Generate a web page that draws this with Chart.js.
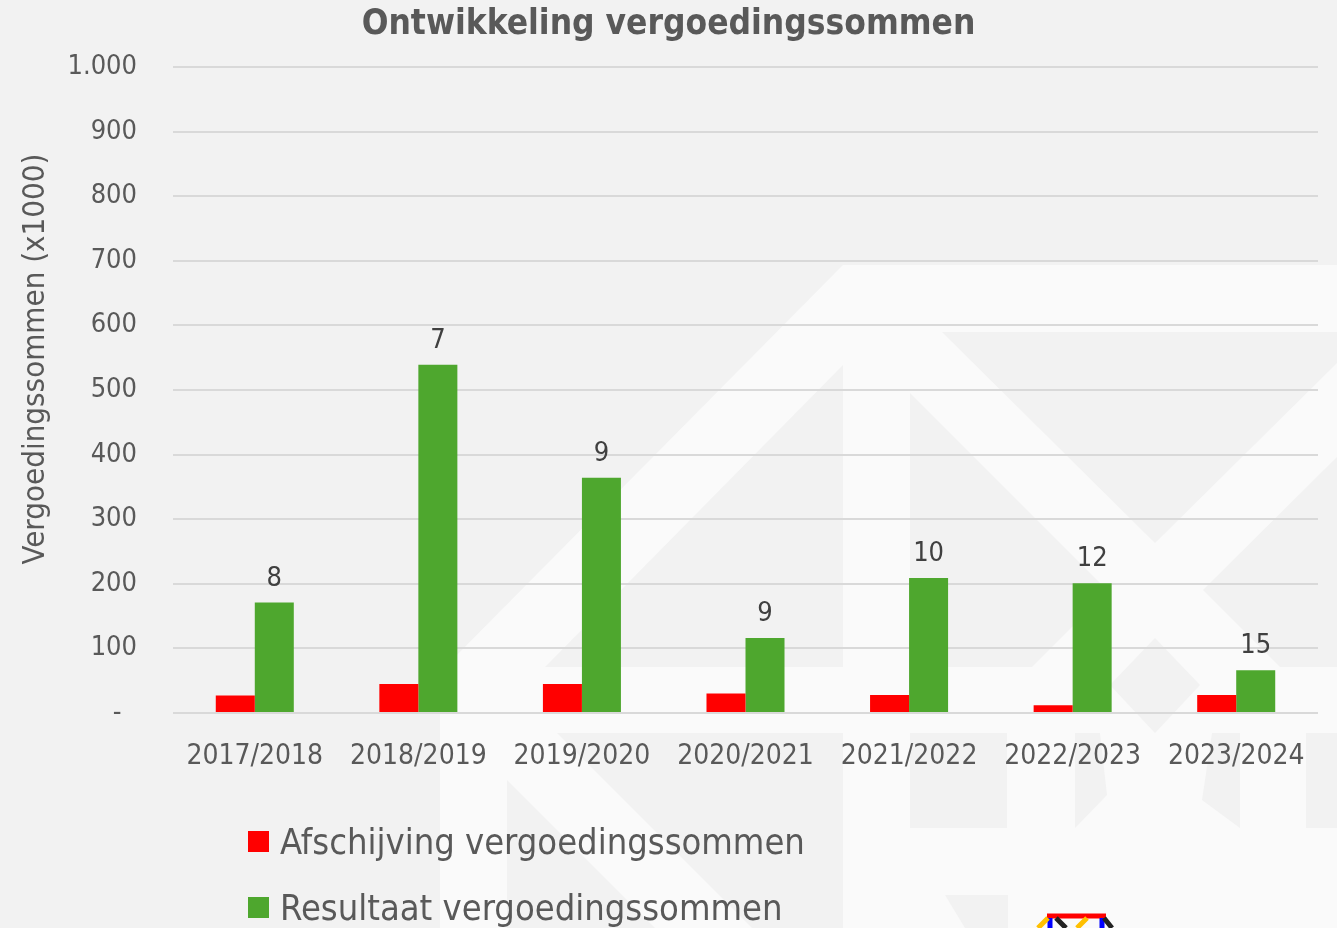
<!DOCTYPE html>
<html>
<head>
<meta charset="utf-8">
<script src="https://cdn.jsdelivr.net/npm/chart.js@4"></script>
<style>
    html, body { margin: 0; padding: 0; background: #f2f2f2; }
    #wrap { position: relative; width: 1337px; height: 928px; overflow: hidden; }
    #legenda { position: absolute; left: 248px; top: 808px; font-family: 'DejaVu Sans Condensed', 'DejaVu Sans', sans-serif; font-size: 36px; color: #595959; }
    #legenda div { display: flex; align-items: center; height: 66px; }
    #legenda span.blok { display: inline-block; width: 21px; height: 21px; margin-right: 11px; }
</style>
</head>
<body>
<div id="wrap">
    <canvas id="grafiek" width="1337" height="928"></canvas>
    <div id="legenda"></div>
</div>
<script>
// gegevens (bedragen x1000)
const schooljaren = ['2017/2018', '2018/2019', '2019/2020', '2020/2021', '2021/2022', '2022/2023', '2023/2024'];
const afschrijving = [27, 45, 45, 30, 28, 12, 28];
const resultaat = [171, 539, 364, 116, 209, 201, 66];
const aantallen = [8, 7, 9, 9, 10, 12, 15];
const yTicks = [0, 100, 200, 300, 400, 500, 600, 700, 800, 900, 1000];

const FONT = "'DejaVu Sans Condensed', 'DejaVu Sans', sans-serif";
const GRIJS = '#595959';

// lichte watermerk-vlakken op de achtergrond
const watermerk = {
    id: 'watermerk',
    beforeDraw(chart) {
        const c = chart.ctx;
        const vlak = (pts, kleur) => {
            c.fillStyle = kleur;
            c.beginPath();
            pts.forEach((p, i) => i ? c.lineTo(p[0], p[1]) : c.moveTo(p[0], p[1]));
            c.closePath();
            c.fill();
        };
        c.save();
        const licht = '#fafafa', donker = '#f2f2f2';
        vlak([[843, 265], [1337, 265], [1337, 667], [843, 667]], licht);
        vlak([[843, 265], [843, 365], [545, 667], [445, 667]], licht);
        vlak([[440, 667], [1337, 667], [1337, 928], [440, 928]], licht);
        // donkere delen binnen het logo
        vlak([[942, 332], [1337, 332], [1337, 363], [1155, 543]], donker);
        vlak([[910, 393], [1108, 591], [1032, 667], [910, 667]], donker);
        vlak([[1337, 457], [1203, 590], [1280, 667], [1337, 667]], donker);
        vlak([[1155, 638], [1200, 685], [1155, 733], [1110, 685]], donker);
        vlak([[507, 780], [507, 928], [655, 928]], donker);
        vlak([[557, 733], [843, 733], [843, 928], [752, 928]], donker);
        vlak([[910, 733], [1007, 733], [1007, 828], [910, 828]], donker);
        vlak([[1075, 733], [1100, 733], [1107, 795], [1075, 828]], donker);
        vlak([[1212, 733], [1240, 733], [1240, 828], [1202, 800]], donker);
        vlak([[1306, 733], [1337, 733], [1337, 828], [1306, 828]], donker);
        vlak([[945, 895], [1008, 895], [1008, 928], [965, 928]], donker);
        // logo onderaan
        c.lineWidth = 5;
        c.strokeStyle = '#ff0000';
        c.beginPath(); c.moveTo(1047, 916); c.lineTo(1106, 916); c.stroke();
        c.strokeStyle = '#0000ff';
        c.beginPath(); c.moveTo(1050, 918); c.lineTo(1050, 928); c.moveTo(1102, 918); c.lineTo(1102, 928); c.stroke();
        c.strokeStyle = '#ffc000';
        c.beginPath(); c.moveTo(1048, 918); c.lineTo(1038, 928); c.moveTo(1087, 918); c.lineTo(1077, 928); c.stroke();
        c.strokeStyle = '#222222';
        c.beginPath(); c.moveTo(1056, 918); c.lineTo(1066, 928); c.moveTo(1104, 918); c.lineTo(1112, 928); c.stroke();
        c.restore();
    }
};

// aantallen boven de groene staven
const aantalLabels = {
    id: 'aantalLabels',
    afterDatasetsDraw(chart) {
        const c = chart.ctx;
        const meta = chart.getDatasetMeta(1);
        c.save();
        c.font = '27px ' + FONT;
        c.fillStyle = '#404040';
        c.textAlign = 'center';
        c.textBaseline = 'alphabetic';
        meta.data.forEach((bar, i) => {
            c.fillText(String(aantallen[i]), bar.x, bar.y - 17);
        });
        c.restore();
    }
};

// as-titel links, iets boven het midden zoals in het origineel
const yTitel = {
    id: 'yTitel',
    afterDraw(chart) {
        const c = chart.ctx;
        const a = chart.chartArea;
        c.save();
        c.translate(36, (a.top + a.bottom) / 2 - 31);
        c.rotate(-Math.PI / 2);
        c.font = '31px ' + FONT;
        c.fillStyle = GRIJS;
        c.textAlign = 'center';
        c.textBaseline = 'middle';
        c.fillText('Vergoedingssommen (x1000)', 0, 0);
        c.restore();
    }
};

const ctx = document.getElementById('grafiek').getContext('2d');
const grafiek = new Chart(ctx, {
    type: 'bar',
    data: {
        labels: schooljaren,
        datasets: [{
            label: 'Afschijving vergoedingssommen',
            data: afschrijving,
            backgroundColor: '#ff0000'
        }, {
            label: 'Resultaat vergoedingssommen',
            data: resultaat,
            backgroundColor: '#4ea72e'
        }]
    },
    options: {
        responsive: false,
        animation: false,
        categoryPercentage: 0.477,
        barPercentage: 1,
        layout: { padding: { top: 4, right: 19, left: 19, bottom: 0 } },
        plugins: {
            legend: { display: false },
            tooltip: { enabled: false },
            title: {
                display: true,
                text: 'Ontwikkeling vergoedingssommen',
                color: GRIJS,
                font: { family: FONT, size: 35, weight: 'bold' },
                padding: { top: 0, bottom: 21 }
            }
        },
        scales: {
            x: {
                grid: { display: false },
                border: { display: false },
                ticks: { color: GRIJS, font: { family: FONT, size: 28 }, padding: 19, maxRotation: 0 },
                afterFit: (s) => { s.height = 215; }
            },
            y: {
                min: 0,
                max: 1000,
                afterBuildTicks: (s) => { s.ticks = yTicks.map(v => ({ value: v })); },
                grid: { color: '#d9d9d9', lineWidth: 2, drawTicks: false },
                border: { display: false },
                ticks: {
                    color: GRIJS,
                    font: { family: FONT, size: 27 },
                    padding: 36,
                    callback: (v) => v === 0 ? '-  ' : (v >= 1000 ? '1.' + String(v).slice(1) : String(v))
                },
                afterFit: (s) => { s.width = 154; }
            }
        }
    },
    plugins: [watermerk, aantalLabels, yTitel]
});

// legenda onder de grafiek, onder elkaar
const legenda = document.getElementById('legenda');
grafiek.data.datasets.forEach(ds => {
    const rij = document.createElement('div');
    const blok = document.createElement('span');
    blok.className = 'blok';
    blok.style.background = ds.backgroundColor;
    rij.appendChild(blok);
    rij.appendChild(document.createTextNode(ds.label));
    legenda.appendChild(rij);
});
</script>
</body>
</html>
